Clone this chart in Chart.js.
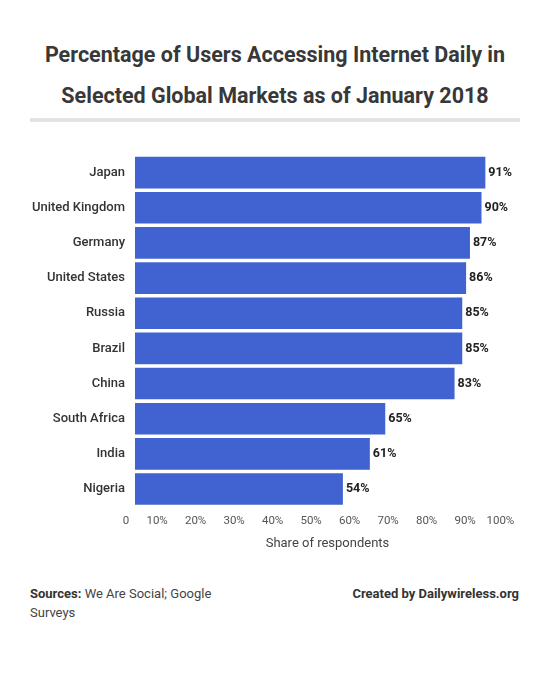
<!DOCTYPE html>
<html lang="en">
<head>
<meta charset="UTF-8">
<title>Percentage of Users Accessing Internet Daily</title>
<script src="https://cdn.jsdelivr.net/npm/chart.js@4/dist/chart.umd.min.js"></script>
<style>
  body { margin: 0; background: #fff; font-family: Roboto, "Noto Sans", sans-serif; color: #333; }
  .page { position: relative; width: 550px; height: 683px; overflow: hidden; }
  h1 { position: absolute; top: 34px; left: 0; width: 550px; margin: 0; text-align: center; font-size: 21.5px; font-weight: 700; line-height: 41px; color: #383838; }
  .rule { position: absolute; top: 118px; left: 30px; width: 490px; height: 4px; background: #e3e3e3; }
  .chart-wrap { position: absolute; top: 145px; left: 0; width: 550px; height: 424px; }
  .src { position: absolute; top: 584px; left: 30px; font-size: 13px; line-height: 19px; color: #444; }
  .src b, .made { font-weight: 700; color: #333; }
  .made { position: absolute; top: 584px; right: 31px; font-size: 13px; line-height: 19px; }
</style>
</head>
<body>
<div class="page">
  <h1>Percentage of Users Accessing Internet Daily in<br>Selected Global Markets as of January 2018</h1>
  <div class="rule"></div>
  <div class="chart-wrap"><canvas id="chart"></canvas></div>
  <div class="src"><b>Sources:</b> We Are Social; Google<br>Surveys</div>
  <div class="made">Created by Dailywireless.org</div>
</div>
<script>
const countries = ['Japan', 'United Kingdom', 'Germany', 'United States', 'Russia', 'Brazil', 'China', 'South Africa', 'India', 'Nigeria'];
const shares = [91, 90, 87, 86, 85, 85, 83, 65, 61, 54];
const axisTitle = 'Share of respondents';

const barLabels = {
  id: 'barLabels',
  afterDatasetsDraw(chart) {
    const ctx = chart.ctx;
    const meta = chart.getDatasetMeta(0);
    ctx.save();
    ctx.font = '700 12.5px Roboto, sans-serif';
    ctx.fillStyle = '#222';
    ctx.textAlign = 'left';
    ctx.textBaseline = 'middle';
    meta.data.forEach((bar, i) => {
      ctx.fillText(shares[i] + '%', bar.x + 3, bar.y);
    });
    ctx.restore();
  }
};

new Chart(document.getElementById('chart'), {
  type: 'bar',
  data: {
    labels: countries,
    datasets: [{ data: shares, backgroundColor: '#4163d1', borderWidth: 0, barPercentage: 0.9, categoryPercentage: 1 }]
  },
  options: {
    indexAxis: 'y',
    responsive: true,
    maintainAspectRatio: false,
    animation: false,
    layout: { padding: { top: 10, right: 30, bottom: 8, left: 0 } },
    plugins: { legend: { display: false }, tooltip: { enabled: false } },
    scales: {
      x: {
        min: 0, max: 100,
        grid: { display: false, drawTicks: false },
        border: { display: false },
        ticks: {
          stepSize: 10,
          align: 'end',
          padding: 8,
          maxRotation: 0,
          minRotation: 0,
          autoSkip: false,
          color: '#555',
          font: { family: 'Roboto', size: 11.5 },
          callback: (v) => (v === 0 ? '0' : v + '%') + '  '
        },
        title: {
          display: true,
          text: axisTitle,
          color: '#444',
          font: { family: 'Roboto', size: 13 },
          padding: { top: 0, bottom: 9 }
        }
      },
      y: {
        grid: { display: false, drawTicks: false },
        border: { display: false },
        afterFit: (s) => { s.width = 135; s.paddingTop = 0; s.paddingBottom = 0; },
        ticks: {
          padding: 10,
          color: '#333',
          font: { family: 'Roboto', size: 13, weight: 500 }
        }
      }
    }
  },
  plugins: [barLabels]
});
</script>
</body>
</html>
